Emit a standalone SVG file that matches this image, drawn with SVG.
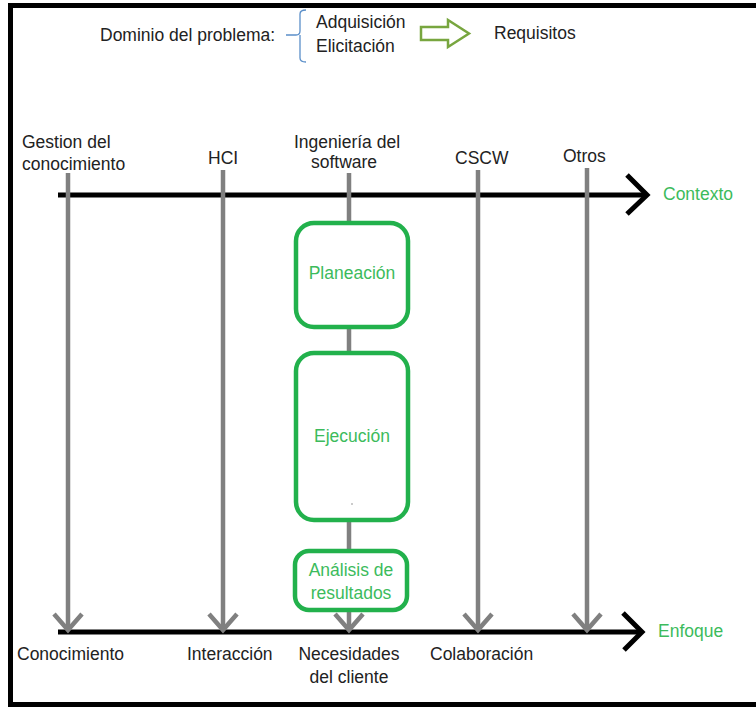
<svg xmlns="http://www.w3.org/2000/svg" width="756" height="708" viewBox="0 0 756 708">
  <style>
    .t { font-family: "Liberation Sans", Arial, sans-serif; font-size: 17.5px; fill: #222; }
    .g { font-family: "Liberation Sans", Arial, sans-serif; font-size: 17.5px; fill: #3cbb5c; }
    .axis { stroke: #000; stroke-width: 5; fill: none; }
    .track { stroke: #808080; stroke-width: 4.5; fill: none; }
    .head { stroke: #808080; stroke-width: 4.5; fill: none; stroke-linejoin: miter; }
    .box { fill: #fff; stroke: #22b14c; stroke-width: 4.5; }
  </style>
  <rect width="756" height="708" fill="#fff"/>
  <!-- outer frame, open on the right -->
  <path d="M 760 5.5 H 10.5 V 704.5 H 760" fill="none" stroke="#000" stroke-width="5"/>

  <!-- header -->
  <g id="header">
    <text class="t" x="100" y="41">Dominio del problema:</text>
    <path d="M 286 35 H 296 Q 300 35 300 31 V 14 Q 300 10 306 10 M 300 35 V 58 Q 300 62 306 62" fill="none" stroke="#5b8fc9" stroke-width="1.3"/>
    <text class="t" x="316" y="28">Adquisición</text>
    <text class="t" x="316" y="52">Elicitación</text>
    <polygon points="421,27 448,27 448,20 469,33.5 448,47 448,40 421,40" fill="#fff" stroke="#78a63f" stroke-width="2.5"/>
    <text class="t" x="494" y="39">Requisitos</text>
  </g>

  <!-- axes and tracks -->
  <g id="connectors">
    <line class="axis" x1="58" y1="195" x2="646" y2="195"/>
    <polyline class="axis" points="627,175 647,195 627,214"/>
    <line class="axis" x1="58" y1="632" x2="641" y2="632"/>
    <polyline class="axis" points="623,613 642,632 624,650"/>

    <line class="track" x1="68" y1="173" x2="68" y2="630"/>
    <polyline class="head" points="54,614 68,630 82,614"/>
    <line class="track" x1="223" y1="170" x2="223" y2="630"/>
    <polyline class="head" points="209,614 223,630 237,614"/>
    <line class="track" x1="349" y1="173" x2="349" y2="630"/>
    <polyline class="head" points="335,614 349,630 363,614"/>
    <line class="track" x1="478" y1="170" x2="478" y2="630"/>
    <polyline class="head" points="464,614 478,630 492,614"/>
    <line class="track" x1="587" y1="168" x2="587" y2="630"/>
    <polyline class="head" points="573,614 587,630 601,614"/>
  </g>

  <!-- top labels -->
  <g id="gestion"><text class="t" x="22" y="148">Gestion del</text><text class="t" x="22" y="170">conocimiento</text></g>
  <g id="hci"><text class="t" x="208" y="164">HCI</text></g>
  <g id="ingenieria"><text class="t" x="347" y="148" text-anchor="middle">Ingeniería del</text><text class="t" x="344" y="168" text-anchor="middle">software</text></g>
  <g id="cscw"><text class="t" x="455" y="164">CSCW</text></g>
  <g id="otros"><text class="t" x="563" y="162">Otros</text></g>
  <g id="contexto"><text class="g" x="663" y="200">Contexto</text></g>

  <!-- process boxes -->
  <g id="planeacion">
    <rect class="box" x="296" y="223" width="112" height="104" rx="18"/>
    <text class="g" x="352" y="279" text-anchor="middle">Planeación</text>
  </g>
  <g id="ejecucion">
    <rect class="box" x="296" y="353" width="112" height="167" rx="18"/>
    <text class="g" x="352" y="442" text-anchor="middle">Ejecución</text>
    <circle cx="352" cy="504" r="0.8" fill="#888"/>
  </g>
  <g id="analisis">
    <rect class="box" x="295" y="551" width="112" height="59" rx="14"/>
    <text class="g" x="351" y="576" text-anchor="middle">Análisis de</text>
    <text class="g" x="351" y="599" text-anchor="middle">resultados</text>
  </g>

  <!-- bottom labels -->
  <g id="conocimiento"><text class="t" x="17" y="660">Conocimiento</text></g>
  <g id="interaccion"><text class="t" x="187" y="660">Interacción</text></g>
  <g id="necesidades"><text class="t" x="349" y="660" text-anchor="middle">Necesidades</text><text class="t" x="349" y="683" text-anchor="middle">del cliente</text></g>
  <g id="colaboracion"><text class="t" x="430" y="660">Colaboración</text></g>
  <g id="enfoque"><text class="g" x="658" y="637">Enfoque</text></g>
</svg>
